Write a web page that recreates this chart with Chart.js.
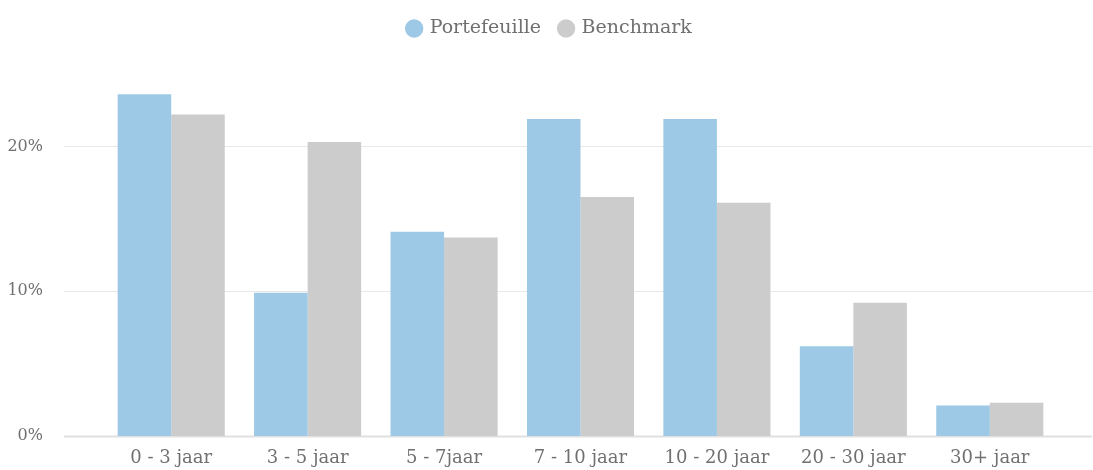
<!DOCTYPE html>
<html>
<head>
<meta charset="utf-8">
<script src="https://cdn.jsdelivr.net/npm/chart.js@4"></script>
<style>
  body { margin: 0; background: #fff; }
  #wrap { width: 1093px; height: 470px; position: relative; }
</style>
</head>
<body>
<div id="wrap"><canvas id="looptijdChart"></canvas></div>
<script>
// DATA
const categories = ["0 - 3 jaar", "3 - 5 jaar", "5 - 7jaar", "7 - 10 jaar", "10 - 20 jaar", "20 - 30 jaar", "30+ jaar"];
const portefeuille = [23.6, 9.9, 14.1, 21.9, 21.9, 6.2, 2.1];
const benchmark = [22.2, 20.3, 13.7, 16.5, 16.1, 9.2, 2.3];
const yTicks = [0, 10, 20];

const FONT = "'DejaVu Serif', serif";
const TEXT = "#707070";
const LEGEND_PAD = 19;

// grid lines run wider than the bar area
const wideGrid = {
  id: "wideGrid",
  beforeDatasetsDraw(chart) {
    const { ctx, chartArea, scales } = chart;
    ctx.save();
    yTicks.forEach((v) => {
      const y = Math.round(scales.y.getPixelForValue(v)) + 0.5;
      ctx.strokeStyle = v === 0 ? "#e0e0e0" : "#e8e8e8";
      ctx.lineWidth = v === 0 ? 2 : 1;
      ctx.beginPath();
      ctx.moveTo(chartArea.left - 39, y);
      ctx.lineTo(chartArea.right + 34, y);
      ctx.stroke();
    });
    ctx.restore();
  },
};

// fixed legend height so the plot starts lower, centred on the full canvas
const legendBox = {
  id: "legendBox",
  beforeInit(chart) {
    const fit = chart.legend.fit;
    chart.legend.fit = function () {
      fit.bind(chart.legend)();
      this.height = 74;
    };
  },
  afterLayout(chart) {
    chart.legend.left = 7;
    chart.legend.right = chart.width;
    chart.legend.width = chart.width - 7;
  },
};

const ctx = document.getElementById("looptijdChart").getContext("2d");

new Chart(ctx, {
  type: "bar",
  data: {
    labels: categories,
    datasets: [
      {
        label: "Portefeuille",
        data: portefeuille,
        backgroundColor: "#9dc8e6",
        borderWidth: 0,
        categoryPercentage: 0.785,
        barPercentage: 1,
      },
      {
        label: "Benchmark",
        data: benchmark,
        backgroundColor: "#cccccc",
        borderWidth: 0,
        categoryPercentage: 0.785,
        barPercentage: 1,
      },
    ],
  },
  options: {
    responsive: true,
    maintainAspectRatio: false,
    animation: false,
    layout: { padding: { left: 0, right: 35, top: 0, bottom: 0 } },
    plugins: {
      tooltip: { enabled: false },
      legend: {
        position: "top",
        labels: {
          usePointStyle: true,
          pointStyle: "circle",
          boxWidth: 12,
          boxHeight: 13,
          padding: LEGEND_PAD,
          color: TEXT,
          font: { family: FONT, size: 19 },
        },
      },
    },
    scales: {
      x: {
        grid: { display: false, drawTicks: false },
        border: { display: false },
        ticks: { color: TEXT, font: { family: FONT, size: 18 }, padding: 12, maxRotation: 0 },
        afterFit(s) { s.height = 34; },
      },
      y: {
        min: 0,
        max: 25,
        grid: { display: false, drawTicks: false },
        border: { display: false },
        ticks: {
          stepSize: 10,
          padding: 60,
          color: TEXT,
          font: { family: FONT, size: 16 },
          callback: (v) => v + "%",
        },
        afterBuildTicks(s) { s.ticks = s.ticks.filter((t) => yTicks.includes(t.value)); },
        afterFit(s) {
          s.width = 103;
          s.paddingTop = 0;
          s.paddingBottom = 0;
        },
      },
    },
  },
  plugins: [wideGrid, legendBox],
});
</script>
</body>
</html>
